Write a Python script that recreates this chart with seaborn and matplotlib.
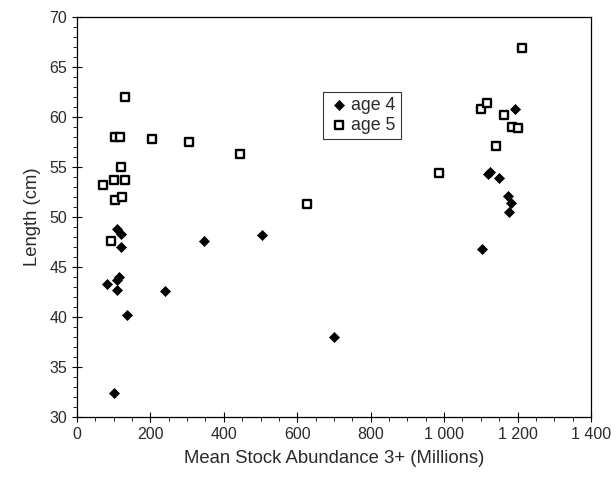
import matplotlib
matplotlib.use("Agg")
import matplotlib.pyplot as plt
import seaborn as sns
import pandas as pd
from matplotlib.ticker import MultipleLocator, FuncFormatter

# values
age4_abund = [108, 120, 120, 115, 110, 82, 110, 135, 101, 240, 345, 505, 700,
              1192, 1120, 1124, 1149, 1174, 1181, 1177, 1104]
age4_len = [48.8, 48.3, 47.0, 44.0, 43.7, 43.3, 42.7, 40.2, 32.4, 42.6, 47.6, 48.2, 38.0,
            60.8, 54.3, 54.5, 53.9, 52.1, 51.4, 50.5, 46.8]

age5_abund = [130, 103, 117, 205, 121, 101, 132, 71, 103, 123, 92,
              304, 445, 626, 986,
              1100, 1118, 1163, 1186, 1201, 1140, 1213]
age5_len = [62.0, 58.0, 58.0, 57.8, 55.0, 53.7, 53.7, 53.2, 51.7, 52.0, 47.6,
            57.5, 56.3, 51.3, 54.4,
            60.8, 61.4, 60.2, 59.0, 58.9, 57.1, 66.9]

df4 = pd.DataFrame({"abund": age4_abund, "length": age4_len})
df5 = pd.DataFrame({"abund": age5_abund, "length": age5_len})

sns.set_style("white")
plt.rcParams['font.family'] = ['Liberation Sans', 'DejaVu Sans']

fig = plt.figure(figsize=(6.16, 4.78), dpi=100)
ax = fig.add_axes([0.125, 0.128, 0.8344, 0.837])

sns.scatterplot(data=df4, x="abund", y="length", marker="D", s=26, color="black",
                edgecolor="black", linewidth=0.5, label="age 4", ax=ax, zorder=3)
sns.scatterplot(data=df5, x="abund", y="length", marker="s", s=34, color="white",
                edgecolor="black", linewidth=1.7, label="age 5", ax=ax, zorder=2)

ax.set_xlim(0, 1400)
ax.set_ylim(30, 70)
ax.xaxis.set_major_locator(MultipleLocator(200))
ax.xaxis.set_minor_locator(MultipleLocator(50))
ax.yaxis.set_major_locator(MultipleLocator(5))
ax.yaxis.set_minor_locator(MultipleLocator(1))
ax.xaxis.set_major_formatter(FuncFormatter(lambda v, p: f"{int(v):,}".replace(",", " ")))

ax.tick_params(which="major", direction="inout", length=7, width=0.8, color="black",
               labelsize=11.5, labelcolor="#2a2a2a", bottom=True, left=True)
ax.tick_params(which="minor", direction="out", length=3, width=0.6, color="black",
               bottom=True, left=True)
for sp in ax.spines.values():
    sp.set_color("black")
    sp.set_linewidth(0.9)

ax.set_xlabel("Mean Stock Abundance 3+ (Millions)", fontsize=13.3, color="#2a2a2a", labelpad=6)
ax.set_ylabel("Length (cm)", fontsize=13.3, color="#2a2a2a", labelpad=6)

leg = ax.legend(loc="upper left", bbox_to_anchor=(0.524, 0.808), bbox_transform=fig.transFigure,
                frameon=True, fancybox=False, edgecolor="black", fontsize=12.8,
                handletextpad=0.1, borderpad=0.3, labelspacing=0.15, handlelength=1.2,
                borderaxespad=0)
leg.get_frame().set_linewidth(0.8)
for t in leg.get_texts():
    t.set_color("#2a2a2a")

fig.savefig("out.png", dpi=100)
